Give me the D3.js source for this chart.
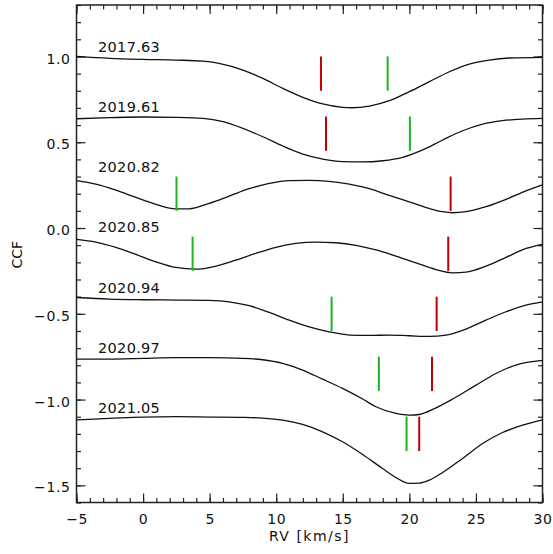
<!DOCTYPE html>
<html>
<head>
<meta charset="utf-8">
<script src="https://cdn.jsdelivr.net/npm/d3@7"></script>
<style>
  html, body { margin: 0; padding: 0; background: #fff; }
  svg text { font-family: "DejaVu Sans", sans-serif; fill: #111; }
</style>
</head>
<body>
<svg id="chart" width="553" height="554"></svg>
<script>
// Cross-correlation functions for each observing epoch, vertically offset.
const epochs = ["2017.63", "2019.61", "2020.82", "2020.85", "2020.94", "2020.97", "2021.05"];

// Each curve: [RV (km/s), CCF]
const ccf201763 = [[-5, 1.0], [-2.5, 0.989], [0, 0.983], [2.5, 0.979], [4.5, 0.973], [5.7, 0.960], [7.5, 0.921], [9, 0.872], [10.5, 0.814], [12, 0.762], [13.5, 0.723], [15, 0.703], [15.7, 0.701], [17, 0.711], [18.5, 0.742], [20, 0.795], [21.5, 0.853], [23, 0.911], [24.5, 0.956], [26, 0.979], [27.5, 0.991], [30, 0.995]];
const ccf201961 = [[-5, 0.637], [-2.5, 0.643], [0, 0.647], [2.5, 0.645], [4.5, 0.639], [6, 0.620], [7.5, 0.581], [9, 0.532], [10.5, 0.478], [12, 0.431], [13.5, 0.402], [15, 0.387], [16.5, 0.385], [18, 0.392], [19.5, 0.412], [21, 0.455], [22.5, 0.513], [24, 0.567], [25.5, 0.606], [27, 0.626], [28.5, 0.635], [30, 0.639]];
const ccf202082 = [[-5, 0.276], [-3.55, 0.256], [-2.04, 0.221], [-0.54, 0.178], [0.96, 0.138], [2.46, 0.112], [3.46, 0.112], [4.97, 0.144], [6.47, 0.186], [7.97, 0.229], [9.48, 0.260], [10.98, 0.276], [12.48, 0.278], [13.98, 0.272], [15.49, 0.256], [16.99, 0.229], [18.49, 0.190], [19.99, 0.153], [21.5, 0.114], [22.5, 0.095], [23.25, 0.089], [24.25, 0.095], [25.75, 0.124], [27.26, 0.167], [28.76, 0.217], [30, 0.252]];
const ccf202085 = [[-5, -0.066], [-3.55, -0.082], [-2.04, -0.113], [-0.54, -0.154], [0.96, -0.197], [2.46, -0.230], [3.97, -0.240], [5.47, -0.222], [6.97, -0.187], [8.47, -0.148], [9.98, -0.113], [11.48, -0.090], [12.98, -0.082], [14.48, -0.086], [15.99, -0.101], [17.49, -0.128], [18.99, -0.164], [20.5, -0.203], [22.0, -0.242], [23.25, -0.261], [24.25, -0.257], [25.75, -0.222], [27.26, -0.171], [28.76, -0.119], [30, -0.095]];
const ccf202094 = [[-5, -0.405], [-2.55, -0.414], [0, -0.418], [2.46, -0.420], [4.97, -0.422], [6.47, -0.430], [7.97, -0.453], [9.48, -0.492], [10.98, -0.537], [12.48, -0.576], [13.98, -0.605], [15.49, -0.624], [16.99, -0.626], [18.49, -0.624], [19.99, -0.628], [21.5, -0.632], [22.75, -0.624], [24.25, -0.589], [25.75, -0.537], [27.26, -0.488], [28.76, -0.449], [30, -0.430]];
const ccf202097 = [[-5, -0.764], [-2.55, -0.764], [0, -0.760], [2.46, -0.756], [4.97, -0.756], [7.47, -0.760], [8.97, -0.768], [10.48, -0.789], [11.98, -0.828], [13.48, -0.881], [14.98, -0.935], [16.49, -0.997], [17.49, -1.042], [18.99, -1.081], [19.99, -1.091], [20.75, -1.087], [22.0, -1.048], [23.25, -0.997], [25.0, -0.916], [26.5, -0.848], [28.0, -0.799], [30, -0.772]];
const ccf202105 = [[-5, -1.118], [-2.55, -1.110], [0, -1.102], [2.46, -1.100], [4.97, -1.102], [7.47, -1.104], [8.97, -1.108], [10.48, -1.120], [11.98, -1.145], [13.48, -1.188], [14.98, -1.246], [16.49, -1.320], [17.99, -1.402], [18.99, -1.454], [19.99, -1.489], [20.75, -1.487], [21.5, -1.470], [22.5, -1.425], [24.0, -1.343], [25.5, -1.256], [27.0, -1.192], [28.5, -1.149], [30, -1.118]];
const curves = [ccf201763, ccf201961, ccf202082, ccf202085, ccf202094, ccf202097, ccf202105];

// Epoch label positions (RV, CCF)
const labelRV = -3.38;
const labelCCF = [1.024, 0.674, 0.324, -0.026, -0.376, -0.726, -1.076];

// Component velocity markers (km/s), drawn from markerTop down by markerLen
const greenRV = [18.37, 20.04, 2.51, 3.72, 14.16, 17.71, 19.79];
const redRV = [13.36, 13.74, 23.10, 22.92, 22.05, 21.70, 20.74];
const markerTop = [1.0, 0.65, 0.30, -0.05, -0.40, -0.75, -1.10];
const markerLen = 0.2;

// Axis ranges and ticks
const xDomain = [-5, 30];
const yDomain = [-1.6, 1.3];
const xMajor = [-5, 0, 5, 10, 15, 20, 25, 30];
const yMajor = [-1.5, -1.0, -0.5, 0.0, 0.5, 1.0];

const svg = d3.select("#chart");
const frame = { left: 76.5, right: 542.5, top: 5, bottom: 502.5 };

const x = d3.scaleLinear().domain(xDomain).range([frame.left, frame.right]);
const y = d3.scaleLinear().domain(yDomain).range([frame.bottom, frame.top]);

const xMinor = d3.range(-5, 30.001, 1);
const yMinor = d3.range(-1.6, 1.3001, 0.1).map(v => Math.round(v * 10) / 10);

const fmtY = d3.format(".1f");
const fmtX = d3.format("d");
const majorLen = 9, minorLen = 4.5;
const axisColor = "#222";

function styleAxis(g) {
  g.select(".domain").remove();
  g.selectAll("line").attr("stroke", axisColor).attr("stroke-width", 1.2);
  g.selectAll("text").attr("font-size", 14).attr("fill", "#111")
    .attr("font-family", "DejaVu Sans, sans-serif");
}

// Bottom axis
svg.append("g").attr("transform", `translate(0,${frame.bottom})`)
  .call(d3.axisBottom(x).tickValues(xMinor).tickSize(-minorLen).tickFormat(""))
  .call(styleAxis);
svg.append("g").attr("transform", `translate(0,${frame.bottom})`)
  .call(d3.axisBottom(x).tickValues(xMajor).tickSize(-majorLen).tickPadding(12).tickFormat(fmtX))
  .call(styleAxis)
  .call(g => g.selectAll("text").attr("dy", "0.71em").attr("y", 12).attr("letter-spacing", 0.5));
// Top axis
svg.append("g").attr("transform", `translate(0,${frame.top})`)
  .call(d3.axisTop(x).tickValues(xMinor).tickSize(-minorLen).tickFormat(""))
  .call(styleAxis);
svg.append("g").attr("transform", `translate(0,${frame.top})`)
  .call(d3.axisTop(x).tickValues(xMajor).tickSize(-majorLen).tickFormat(""))
  .call(styleAxis);
// Left axis
svg.append("g").attr("transform", `translate(${frame.left},0)`)
  .call(d3.axisLeft(y).tickValues(yMinor).tickSize(-minorLen).tickFormat(""))
  .call(styleAxis);
svg.append("g").attr("transform", `translate(${frame.left},0)`)
  .call(d3.axisLeft(y).tickValues(yMajor).tickSize(-majorLen).tickPadding(6).tickFormat(fmtY))
  .call(styleAxis)
  .call(g => g.selectAll("text").attr("dy", "0.47em").attr("letter-spacing", 0.6));
// Right axis
svg.append("g").attr("transform", `translate(${frame.right},0)`)
  .call(d3.axisRight(y).tickValues(yMinor).tickSize(-minorLen).tickFormat(""))
  .call(styleAxis);
svg.append("g").attr("transform", `translate(${frame.right},0)`)
  .call(d3.axisRight(y).tickValues(yMajor).tickSize(-majorLen).tickFormat(""))
  .call(styleAxis);

// Frame
svg.append("rect")
  .attr("x", frame.left).attr("y", frame.top)
  .attr("width", frame.right - frame.left).attr("height", frame.bottom - frame.top)
  .attr("fill", "none").attr("stroke", axisColor).attr("stroke-width", 1.5);

// Axis titles
svg.append("text")
  .attr("x", (frame.left + frame.right) / 2).attr("y", 541)
  .attr("text-anchor", "middle").attr("font-size", 14).attr("letter-spacing", 1.5)
  .text("RV [km/s]");
svg.append("text")
  .attr("transform", `translate(21.5,${(frame.top + frame.bottom) / 2 + 1}) rotate(-90)`)
  .attr("text-anchor", "middle").attr("font-size", 14)
  .text("CCF");

// Curves
const line = d3.line().x(d => x(d[0])).y(d => y(d[1])).curve(d3.curveMonotoneX);
const plot = svg.append("g");
plot.selectAll("path.ccf").data(curves).join("path")
  .attr("class", "ccf")
  .attr("d", line)
  .attr("fill", "none").attr("stroke", "#111").attr("stroke-width", 1.3);

// Velocity markers
const markers = epochs.map((e, i) => ({ i, g: greenRV[i], r: redRV[i], t: markerTop[i] }));
plot.selectAll("line.red").data(markers).join("line")
  .attr("class", "red")
  .attr("x1", d => x(d.r)).attr("x2", d => x(d.r))
  .attr("y1", d => y(d.t)).attr("y2", d => y(d.t - markerLen))
  .attr("stroke", "#c00000").attr("stroke-width", 2);
plot.selectAll("line.green").data(markers).join("line")
  .attr("class", "green")
  .attr("x1", d => x(d.g)).attr("x2", d => x(d.g))
  .attr("y1", d => y(d.t)).attr("y2", d => y(d.t - markerLen))
  .attr("stroke", "#1fb41f").attr("stroke-width", 2);

// Epoch labels
plot.selectAll("text.epoch").data(epochs).join("text")
  .attr("class", "epoch")
  .attr("x", x(labelRV)).attr("y", (d, i) => y(labelCCF[i]))
  .attr("font-size", 14.5).attr("letter-spacing", 0.3)
  .text(d => d);
</script>
</body>
</html>
